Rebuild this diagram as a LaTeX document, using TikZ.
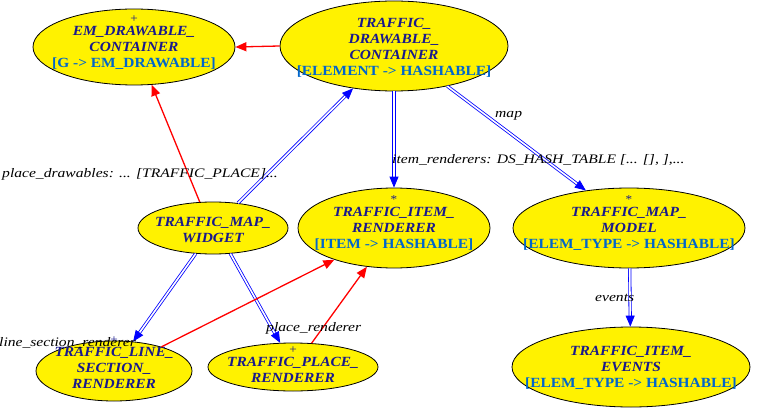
\documentclass[tikz,border=0pt]{standalone}
\usepackage{fontspec}
\setmainfont{Liberation Serif}
\newfontfamily\clsfont{Liberation Serif}[FakeStretch=1.1]
\newfontfamily\lblfont{Liberation Serif}[FakeStretch=1.2]
\usetikzlibrary{shapes.geometric,arrows.meta}
\definecolor{navyc}{RGB}{25,25,140}
\definecolor{genc}{RGB}{0,102,204}
\newcommand\clsgen[1]{{\upshape\color{genc}#1}}
\newcommand\clsmark[1]{{\mdseries\upshape\fontsize{12}{12}\selectfont #1}}
\tikzset{
  shp/.style={ellipse, draw=black, line width=0.8pt, fill=yellow, inner sep=0pt},
  ctext/.style={align=center, inner sep=0pt, text=navyc,
    font=\clsfont\fontsize{14}{16}\selectfont\bfseries\itshape},
  lbl/.style={inner sep=0pt, anchor=west, font=\lblfont\fontsize{13}{15}\selectfont\itshape},
  redarr/.style={draw=red, line width=1.3pt, -{Triangle[length=11pt,width=9pt]}},
  dbl/.style={draw=blue, double=white, double distance=1.6pt, line width=0.8pt,
    -{Triangle[length=11pt,width=9pt]}}
}
\begin{document}
\begin{tikzpicture}[x=1pt,y=-1pt]
\useasboundingbox (0,0) rectangle (757,409);
% ellipses
\node[shp, minimum width=202pt, minimum height=76pt] (edc) at (134,47) {};
\node[shp, minimum width=228pt, minimum height=90pt] (tdc) at (394,46) {};
\node[shp, minimum width=150pt, minimum height=52pt] (tmw) at (213,228) {};
\node[shp, minimum width=192pt, minimum height=80pt] (tir) at (394,228) {};
\node[shp, minimum width=232pt, minimum height=80pt] (tmm) at (629,228) {};
\node[shp, minimum width=156pt, minimum height=60pt] (tls) at (114,371) {};
\node[shp, minimum width=170pt, minimum height=48pt] (tpr) at (293,367) {};
\node[shp, minimum width=238pt, minimum height=80pt] (tie) at (631,367) {};
% texts
\node[ctext, yshift=4.5pt] (edct) at (edc.center) {\clsmark{+}\\[-3pt] EM\_DRAWABLE\_\\ CONTAINER\\ \clsgen{[G -> EM\_DRAWABLE]}};
\node[ctext, yshift=-2pt] (tdct) at (tdc.center) {TRAFFIC\_\\ DRAWABLE\_\\ CONTAINER\\ \clsgen{[ELEMENT -> HASHABLE]}};
\node[ctext, yshift=-1.5pt] (tmwt) at (tmw.center) {TRAFFIC\_MAP\_\\ WIDGET};
\node[ctext, yshift=4.5pt] (tirt) at (tir.center) {\clsmark{*}\\[-3pt] TRAFFIC\_ITEM\_\\ RENDERER\\ \clsgen{[ITEM -> HASHABLE]}};
\node[ctext, yshift=4.5pt] (tmmt) at (tmm.center) {\clsmark{*}\\[-3pt] TRAFFIC\_MAP\_\\ MODEL\\ \clsgen{[ELEM\_TYPE -> HASHABLE]}};
\node[ctext, yshift=8pt] (tlst) at (tls.center) {\clsmark{+}\\[-3pt] TRAFFIC\_LINE\_\\ SECTION\_\\ RENDERER};
\node[ctext, yshift=2.5pt] (tprt) at (tpr.center) {\clsmark{+}\\[-3pt] TRAFFIC\_PLACE\_\\ RENDERER};
\node[ctext, yshift=-1pt] (tiet) at (tie.center) {TRAFFIC\_ITEM\_\\ EVENTS\\ \clsgen{[ELEM\_TYPE -> HASHABLE]}};
% edges
\draw[redarr] (tdc.180) -- (edc.0);
\draw[redarr] (tmw.117) -- (edc.-65);
\draw[dbl] (tmw.45) -- (tdc.-134);
\draw[dbl] (tdc.-90) -- (tir.90);
\draw[dbl] (tdc.-37) -- (tmm.139);
\draw[dbl] (tmm.-89) -- (tie.91);
\draw[dbl] (tmw.-124) -- (tls.57);
\draw[dbl] (tmw.-56) -- (tpr.118);
\draw[redarr] (tls.27) -- (tir.-152);
\draw[redarr] (tpr.52) -- (tir.-125);
% labels
\node[lbl] (l1) at (2,174) {place\_drawables: ... [TRAFFIC\_PLACE]...};
\node[lbl] (l2) at (392,160) {item\_renderers: DS\_HASH\_TABLE [... [], ],...};
\node[lbl] (l3) at (495,116) {map};
\node[lbl] (l4) at (595,298) {events};
\node[lbl] (l5) at (-1,343) {line\_section\_renderer};
\node[lbl] (l6) at (266,328) {place\_renderer};
\end{tikzpicture}
\end{document}
